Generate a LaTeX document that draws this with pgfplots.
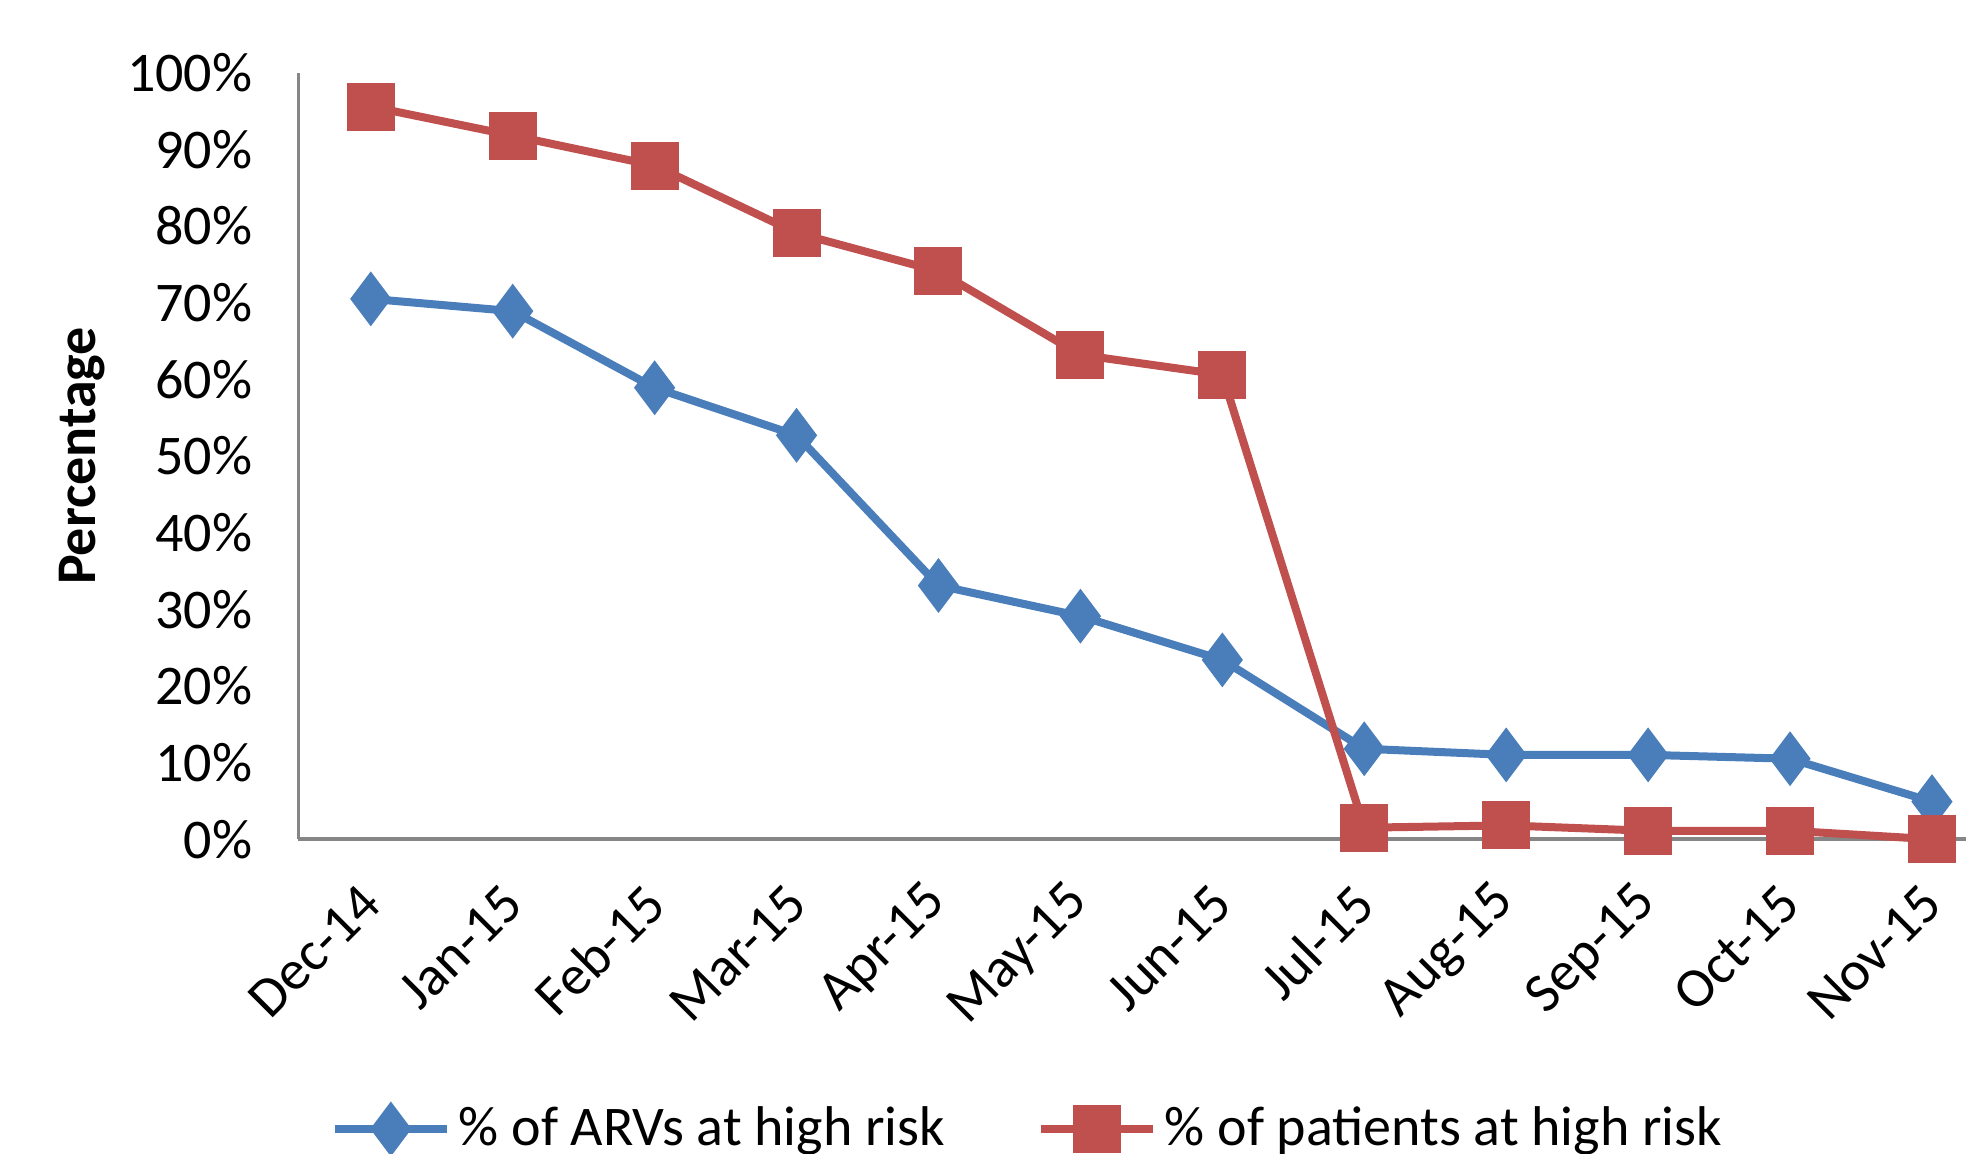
\documentclass[border=0pt]{standalone}
\usepackage{fontspec}
\setmainfont{Carlito}
\usepackage{pgfplots}
\pgfplotsset{compat=1.18}
\definecolor{arvblue}{HTML}{4A7EBB}
\definecolor{patred}{HTML}{C0504D}
\definecolor{axgray}{HTML}{868686}

\begin{document}
\begin{tikzpicture}
\begin{axis}[
  scale only axis,
  width=416.9pt, height=191.6pt,
  xmin=-0.51, xmax=11.24,
  ymin=0, ymax=100,
  axis lines=left,
  axis line style={-},
  x axis line style={axgray, line width=1pt},
  y axis line style={axgray, line width=0.6pt},
  major tick length=0pt,
  xtick={0,...,11},
  xticklabels={Dec-14,Jan-15,Feb-15,Mar-15,Apr-15,May-15,Jun-15,Jul-15,Aug-15,Sep-15,Oct-15,Nov-15},
  ytick={0,10,...,100},
  yticklabel={\pgfmathprintnumber{\tick}\%},
  /pgf/number format/assume math mode=true,
  tick label style={font=\fontsize{14}{17}\selectfont, black},
  xticklabel style={xshift=2.5pt, yshift=-11.3pt, rotate=45, anchor=east},
  yticklabel style={xshift=-8pt},
  ylabel={Percentage},
  ylabel style={font=\bfseries\fontsize{14}{17}\selectfont, at={(axis description cs:-0.13,0.5)}, anchor=center},
  clip=false,
  legend columns=2,
  legend style={draw=none, fill=none, at={(0.019,-0.378)}, anchor=west,
    font=\fontsize{14}{17}\selectfont, inner sep=0pt,
    /tikz/every even column/.append style={column sep=21pt}},
  legend image code/.code={\draw[mark repeat=2,mark phase=2] plot coordinates {(0pt,0pt)(14pt,0pt)(28pt,0pt)};},
]
\addplot[arvblue, line width=2pt, mark=diamond*, mark size=5.2pt, mark options={solid}] coordinates {
  (0,70.5) (1,68.9) (2,58.9) (3,52.7) (4,33.1) (5,29.1)
  (6,23.4) (7,11.8) (8,11.0) (9,11.0) (10,10.5) (11,4.9)
};
\addlegendentry{\% of ARVs at high risk}
\addplot[patred, line width=2pt, mark=square*, mark size=5pt, mark options={solid}] coordinates {
  (0,95.6) (1,91.8) (2,87.9) (3,79.1) (4,74.1) (5,63.2)
  (6,60.6) (7,1.5) (8,1.8) (9,1.1) (10,1.1) (11,0)
};
\addlegendentry{\% of patients at high risk}
\end{axis}
\pgfresetboundingbox
\path[use as bounding box] (-74.6pt,-78.5pt) rectangle (416.9pt,209.8pt);
\end{tikzpicture}
\end{document}
